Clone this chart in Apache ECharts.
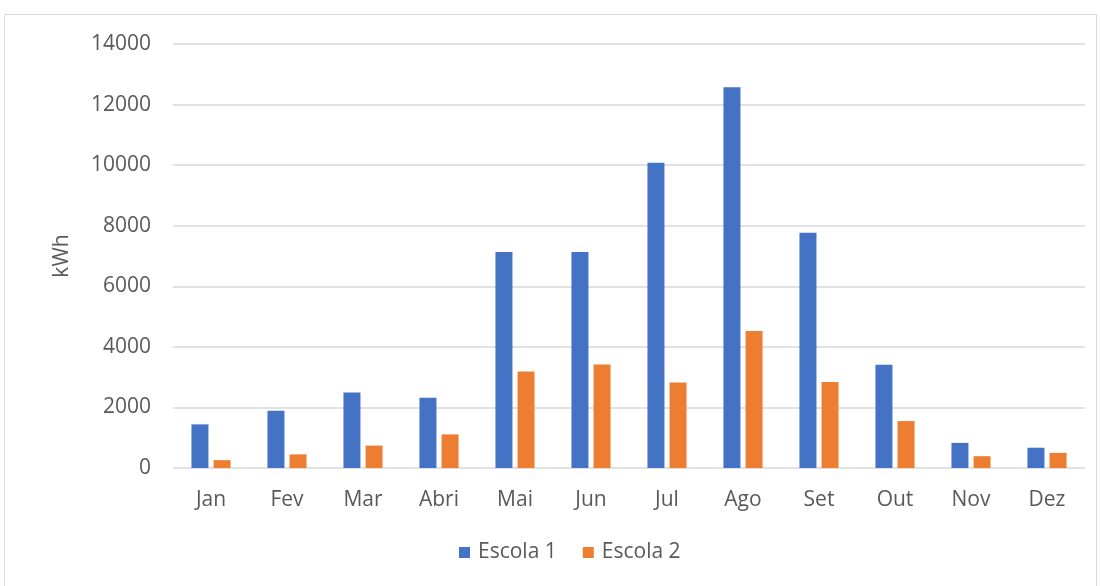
<!DOCTYPE html>
<html>
<head>
<meta charset="utf-8">
<style>
  html, body { margin: 0; padding: 0; background: #fff; }
  #chart { width: 1100px; height: 586px; }
</style>
<script src="https://cdn.jsdelivr.net/npm/echarts@6/dist/echarts.min.js"></script>
</head>
<body>
<div id="chart"></div>
<script>
// meses
var months = ['Jan', 'Fev', 'Mar', 'Abri', 'Mai', 'Jun', 'Jul', 'Ago', 'Set', 'Out', 'Nov', 'Dez'];
// consumo (kWh)
var escola1 = [1440, 1890, 2490, 2320, 7130, 7130, 10080, 12570, 7770, 3410, 830, 670];
var escola2 = [260, 450, 740, 1110, 3190, 3420, 2820, 4520, 2840, 1550, 390, 500];
var seriesNames = ['Escola 1', 'Escola 2'];

var font = '"Open Sans", sans-serif';
var myChart = echarts.init(document.getElementById('chart'), null, { renderer: 'canvas' });

var option = {
  animation: false,
  color: ['#4472C4', '#ED7D31'],
  textStyle: { fontFamily: font },
  graphic: [{
    // moldura do gráfico
    type: 'rect',
    shape: { x: 4.5, y: 14.5, width: 1092, height: 600 },
    style: { fill: 'none', stroke: '#d9d9d9', lineWidth: 1 },
    silent: true
  }],
  grid: {
    left: 173,
    right: 15,
    top: 44,
    bottom: 118
  },
  legend: {
    data: seriesNames,
    bottom: 18,
    left: 454,
    itemWidth: 11,
    itemHeight: 11,
    itemGap: 26,
    icon: 'rect',
    textStyle: { color: '#595959', fontSize: 21, fontFamily: font, padding: [0, 0, 0, 3] }
  },
  xAxis: {
    type: 'category',
    data: months,
    axisLine: { show: false },
    axisTick: { show: false },
    axisLabel: { color: '#595959', fontSize: 21, margin: 22, fontFamily: font }
  },
  yAxis: {
    type: 'value',
    min: 0,
    max: 14000,
    interval: 2000,
    name: 'kWh',
    nameLocation: 'middle',
    nameGap: 100,
    nameRotate: 90,
    nameTextStyle: { color: '#595959', fontSize: 21, fontFamily: font },
    axisLine: { show: false },
    axisTick: { show: false },
    axisLabel: {
      color: '#595959', fontSize: 21, margin: 22, fontFamily: font,
      formatter: function (v) { return String(v); }
    },
    splitLine: { lineStyle: { color: '#d9d9d9', width: 1.5 } }
  },
  series: [
    {
      name: seriesNames[0],
      type: 'bar',
      data: escola1,
      barWidth: 17,
      barGap: '30%'
    },
    {
      name: seriesNames[1],
      type: 'bar',
      data: escola2,
      barWidth: 17,
      barGap: '30%'
    }
  ]
};

myChart.setOption(option);
</script>
</body>
</html>
